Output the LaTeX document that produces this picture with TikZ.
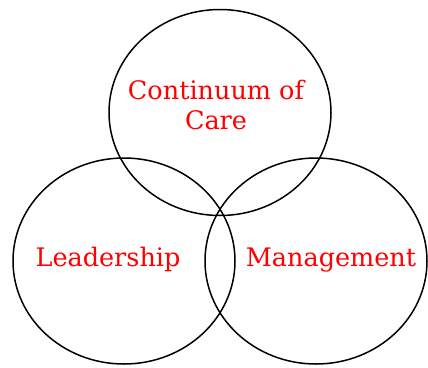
\documentclass[tikz,border=0pt]{standalone}
\usepackage{fontspec}
\setmainfont{DejaVu Serif}
\usepackage{tikz}
\usetikzlibrary{shapes.geometric}

\tikzset{
    venn/.style={shape=ellipse, draw=black, line width=1.5pt, minimum width=222pt, minimum height=206pt, inner sep=0pt},
    venntext/.style={text=red, anchor=base, inner sep=0pt, align=center, font=\fontsize{25.5}{30}\selectfont}
}

\begin{document}
\begin{tikzpicture}[x=1pt, y=-1pt]
        \useasboundingbox (0, 0) rectangle (428, 367);

        \node[venn] (C) at (220, 112.5) {};
        \node[venn] (L) at (124, 261) {};
        \node[venn] (M) at (316, 261) {};

        \node[venntext] (Ctext) at (216, 129.3) {Continuum of\\Care};
        \node[venntext] (Ltext) at (108, 266) {Leadership};
        \node[venntext] (Mtext) at (331, 266.5) {Management};
    \end{tikzpicture}
\end{document}
